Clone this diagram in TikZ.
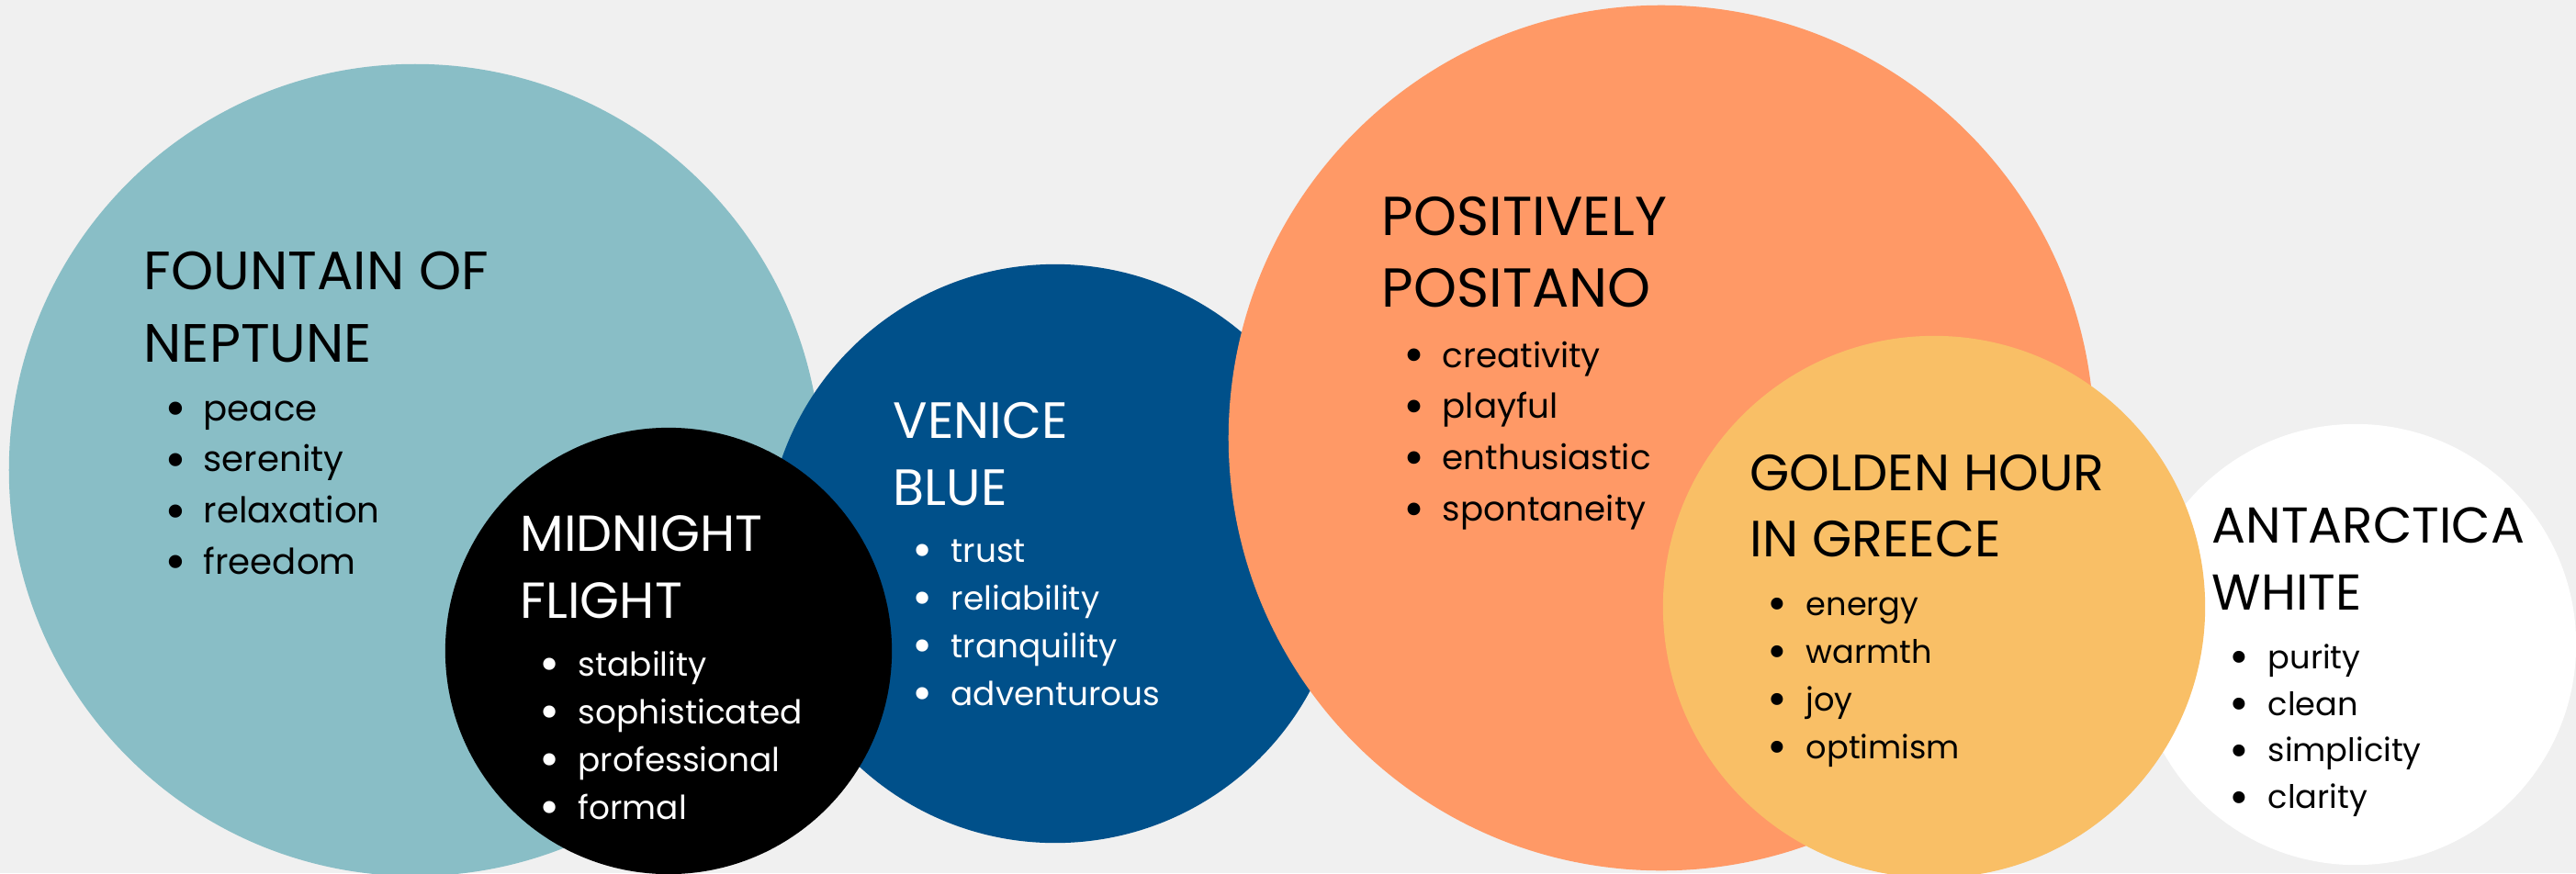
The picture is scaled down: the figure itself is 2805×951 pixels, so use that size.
\documentclass[tikz,border=0pt]{standalone}
\usepackage{fontspec}
\setmainfont{Poppins}
\usepackage{xcolor}
\usepackage{graphicx}
\usepackage{tikz}

\definecolor{backdrop}{HTML}{F0F0F0}
\definecolor{neptune}{HTML}{89BEC6}
\definecolor{venice}{HTML}{00508A}
\definecolor{positano}{HTML}{FF9966}
\definecolor{golden}{HTML}{F9BF66}

\tikzset{
  swatch/.style={circle, inner sep=0pt, draw=none, minimum size=#1},
  heading/.style={anchor=base west, inner sep=0pt},
  traits/.style={anchor=base west, inner sep=0pt}
}
\newcommand{\trait}[1]{\makebox[0.42cm][l]{\raisebox{-0.16em}{\scalebox{1.5}{\textbullet}}}#1}

\begin{document}
\begin{tikzpicture}[x=0.01cm, y=-0.01cm]
    \useasboundingbox (0,0) rectangle (2805,951);
    \clip (0,0) rectangle (2805,951);
    \fill[backdrop] (0,0) rectangle (2805,951);

        % Define the colour circles, back to front
        \node (neptune) [swatch=8.84cm, fill=neptune] at (452,512) {};
        \node (venice) [swatch=6.30cm, fill=venice] at (1149,603) {};
        \node (midnight) [swatch=4.86cm, fill=black] at (728,709) {};
        \node (positano) [swatch=9.42cm, fill=positano] at (1809,477) {};
        \node (antarctica) [swatch=4.80cm, fill=white] at (2565,702) {};
        \node (golden) [swatch=5.90cm, fill=golden] at (2106,661) {};

        % Names of the colours
        \node (neptuneT) [heading, font=\fontsize{16.7}{22.5}\selectfont] at (156,315) {\begin{tabular}[t]{@{}l@{}}FOUNTAIN OF\\NEPTUNE\end{tabular}};
        \node (midnightT) [heading, text=white, font=\fontsize{15.7}{20.8}\selectfont] at (566,600) {\begin{tabular}[t]{@{}l@{}}MIDNIGHT\\FLIGHT\end{tabular}};
        \node (veniceT) [heading, text=white, font=\fontsize{15.8}{20.8}\selectfont] at (972,477) {\begin{tabular}[t]{@{}l@{}}VENICE\\BLUE\end{tabular}};
        \node (positanoT) [heading, font=\fontsize{17}{22.2}\selectfont] at (1504,256) {\begin{tabular}[t]{@{}l@{}}POSITIVELY\\POSITANO\end{tabular}};
        \node (goldenT) [heading, font=\fontsize{15.8}{20.5}\selectfont] at (1905,534) {\begin{tabular}[t]{@{}l@{}}GOLDEN HOUR\\IN GREECE\end{tabular}};
        \node (antarcticaT) [heading, font=\fontsize{15.6}{21}\selectfont] at (2408,591) {\begin{tabular}[t]{@{}l@{}}ANTARCTICA\\WHITE\end{tabular}};

        % Add the moods under each name
        \node (neptuneL) [traits, font=\fontsize{11}{15.9}\selectfont] at (179,458) {\begin{tabular}[t]{@{}l@{}}\trait{peace}\\\trait{serenity}\\\trait{relaxation}\\\trait{freedom}\end{tabular}};
        \node (midnightL) [traits, text=white, font=\fontsize{10.2}{14.8}\selectfont] at (587,736) {\begin{tabular}[t]{@{}l@{}}\trait{stability}\\\trait{sophisticated}\\\trait{professional}\\\trait{formal}\end{tabular}};
        \node (veniceL) [traits, text=white, font=\fontsize{10.2}{14.8}\selectfont] at (993,612) {\begin{tabular}[t]{@{}l@{}}\trait{trust}\\\trait{reliability}\\\trait{tranquility}\\\trait{adventurous}\end{tabular}};
        \node (positanoL) [traits, font=\fontsize{10.6}{15.9}\selectfont] at (1528,400) {\begin{tabular}[t]{@{}l@{}}\trait{creativity}\\\trait{playful}\\\trait{enthusiastic}\\\trait{spontaneity}\end{tabular}};
        \node (goldenL) [traits, font=\fontsize{10}{14.8}\selectfont] at (1924,670) {\begin{tabular}[t]{@{}l@{}}\trait{energy}\\\trait{warmth}\\\trait{joy}\\\trait{optimism}\end{tabular}};
        \node (antarcticaL) [traits, font=\fontsize{10}{14.5}\selectfont] at (2427,728) {\begin{tabular}[t]{@{}l@{}}\trait{purity}\\\trait{clean}\\\trait{simplicity}\\\trait{clarity}\end{tabular}};
    \end{tikzpicture}
\end{document}
